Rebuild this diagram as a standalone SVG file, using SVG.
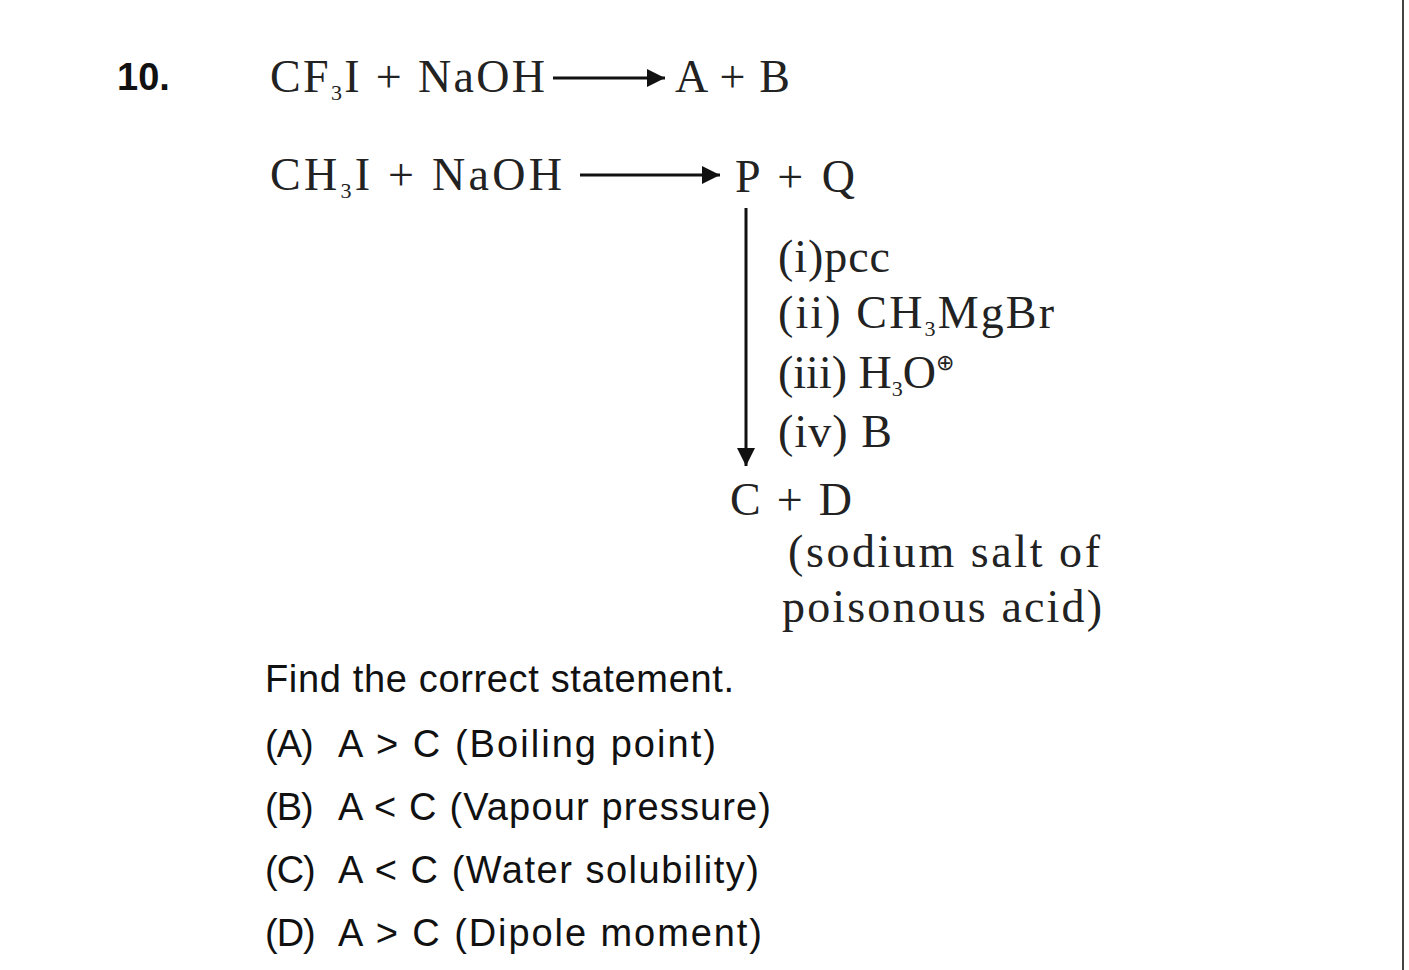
<svg xmlns="http://www.w3.org/2000/svg" width="1409" height="970" viewBox="0 0 1409 970">
<style>
.s{font-family:"Liberation Serif",serif;font-size:46px;fill:#222}
.b{font-family:"Liberation Sans",sans-serif;font-size:38px;font-weight:bold;fill:#111}
.a{font-family:"Liberation Sans",sans-serif;font-size:38px;fill:#111;letter-spacing:-1px}
.sub{font-size:22px}
</style>
<defs><marker id="h" viewBox="0 0 10 10" refX="10" refY="5" markerWidth="6" markerHeight="6" orient="auto"><path d="M0,0L10,5L0,10z" fill="#111"/></marker></defs>
<rect width="1409" height="970" fill="#fff"/>
<line x1="1403" y1="0" x2="1403" y2="970" stroke="#444" stroke-width="2"/>
<text class="b" x="117" y="90">10.</text>
<text class="s" x="270" y="92" textLength="275">CF<tspan class="sub" dy="8">3</tspan><tspan dy="-8">I + NaOH</tspan></text>
<g id="connectors" stroke="#111" stroke-width="3">
<line x1="553" y1="78" x2="665" y2="78" marker-end="url(#h)"/>
<line x1="580" y1="175" x2="720" y2="175" marker-end="url(#h)"/>
<line x1="746" y1="208" x2="746" y2="466" marker-end="url(#h)"/>
</g>
<text class="s" x="675" y="92" textLength="115">A + B</text>
<text class="s" x="270" y="190" textLength="292">CH<tspan class="sub" dy="8">3</tspan><tspan dy="-8">I + NaOH</tspan></text>
<text class="s" x="735" y="192" textLength="120">P + Q</text>
<text class="s" x="778" y="272" textLength="112">(i)pcc</text>
<text class="s" x="778" y="328" textLength="276">(ii) CH<tspan class="sub" dy="8">3</tspan><tspan dy="-8">MgBr</tspan></text>
<text class="s" x="778" y="388">(iii) H<tspan class="sub" dy="8">3</tspan><tspan dy="-8">O</tspan><tspan class="sub" dy="-18">⊕</tspan></text>
<text class="s" x="778" y="447" textLength="114">(iv) B</text>
<text class="s" x="730" y="515" textLength="122">C + D</text>
<text class="s" x="788" y="567" textLength="312">(sodium salt of</text>
<text class="s" x="782" y="622" textLength="320">poisonous acid)</text>
<text class="a" x="265" y="692" textLength="468">Find the correct statement.</text>
<g class="a">
<text x="265" y="757">(A)</text><text x="338" y="757" textLength="377">A &gt; C (Boiling point)</text>
<text x="265" y="820">(B)</text><text x="338" y="820" textLength="432">A &lt; C (Vapour pressure)</text>
<text x="265" y="883">(C)</text><text x="338" y="883" textLength="420">A &lt; C (Water solubility)</text>
<text x="265" y="946">(D)</text><text x="338" y="946" textLength="423">A &gt; C (Dipole moment)</text>
</g>
</svg>
